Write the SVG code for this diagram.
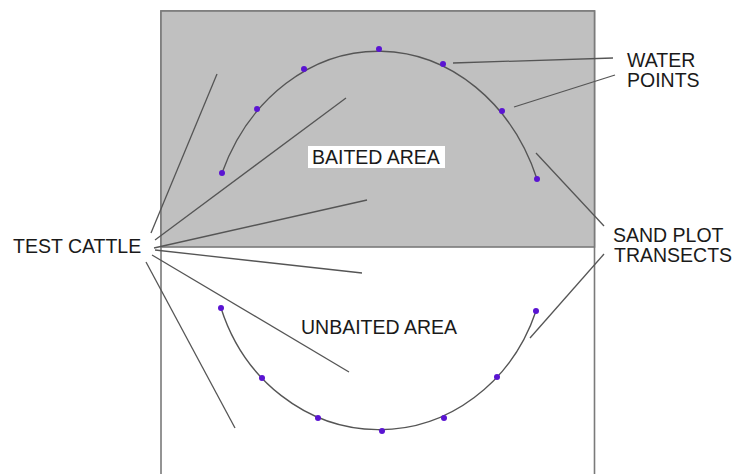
<svg xmlns="http://www.w3.org/2000/svg" width="733" height="474" viewBox="0 0 733 474">
<style>
text{font-family:"Liberation Sans",Arial,sans-serif;font-size:19.5px;fill:#1a1a1a}
.area{stroke:#7a7a7a;stroke-width:1.6}
.ln{stroke:#555;stroke-width:1.3;fill:none}
.tr{stroke:#555;stroke-width:1.4;fill:none}
.dot{fill:#5a14d2}
</style>
<rect width="733" height="474" fill="#fff"/>
<g id="field">
<rect class="area" x="161" y="11" width="433.5" height="480" fill="#fff"/>
<rect class="area" x="161" y="11" width="433.5" height="236" fill="#c0c0c0"/>
</g>
<g id="baited-transect">
<path class="tr" d="M222,173 A170,200 0 0 1 537,179"/>
<circle class="dot" cx="222" cy="173" r="3"/>
<circle class="dot" cx="257" cy="109" r="3"/>
<circle class="dot" cx="304" cy="69" r="3"/>
<circle class="dot" cx="379" cy="49" r="3"/>
<circle class="dot" cx="443" cy="64" r="3"/>
<circle class="dot" cx="502" cy="111" r="3"/>
<circle class="dot" cx="537" cy="179" r="3"/>
</g>
<g id="unbaited-transect">
<path class="tr" d="M221,308 A167,180 0 0 0 536,311"/>
<circle class="dot" cx="221" cy="308" r="3"/>
<circle class="dot" cx="262" cy="378" r="3"/>
<circle class="dot" cx="318" cy="418" r="3"/>
<circle class="dot" cx="382" cy="431" r="3"/>
<circle class="dot" cx="444" cy="418" r="3"/>
<circle class="dot" cx="497" cy="377" r="3"/>
<circle class="dot" cx="536" cy="311" r="3"/>
</g>
<g id="baited-label">
<rect x="308" y="146" width="137" height="22" fill="#fff"/>
<text x="312" y="164">BAITED AREA</text>
</g>
<g id="unbaited-label">
<text x="301" y="334">UNBAITED AREA</text>
</g>
<g id="test-cattle">
<text x="13" y="253">TEST CATTLE</text>
</g>
<g id="water-points">
<text x="627" y="66.5">WATER</text>
<text x="627" y="86.5">POINTS</text>
</g>
<g id="sand-plot-transects">
<text x="613" y="241.5">SAND PLOT</text>
<text x="614" y="261.5">TRANSECTS</text>
</g>
<g id="connectors">
<line class="ln" x1="151" y1="233" x2="217" y2="74"/>
<line class="ln" x1="155" y1="240" x2="346" y2="98"/>
<line class="ln" x1="154" y1="248" x2="367" y2="200"/>
<line class="ln" x1="155" y1="250" x2="362" y2="273"/>
<line class="ln" x1="152" y1="255" x2="349" y2="372"/>
<line class="ln" x1="146" y1="262" x2="235" y2="428"/>
<line class="ln" x1="453" y1="63" x2="613" y2="58"/>
<line class="ln" x1="514" y1="107" x2="615" y2="75"/>
<line class="ln" x1="536" y1="153" x2="604" y2="226"/>
<line class="ln" x1="530" y1="338" x2="604" y2="254"/>
</g>
</svg>
